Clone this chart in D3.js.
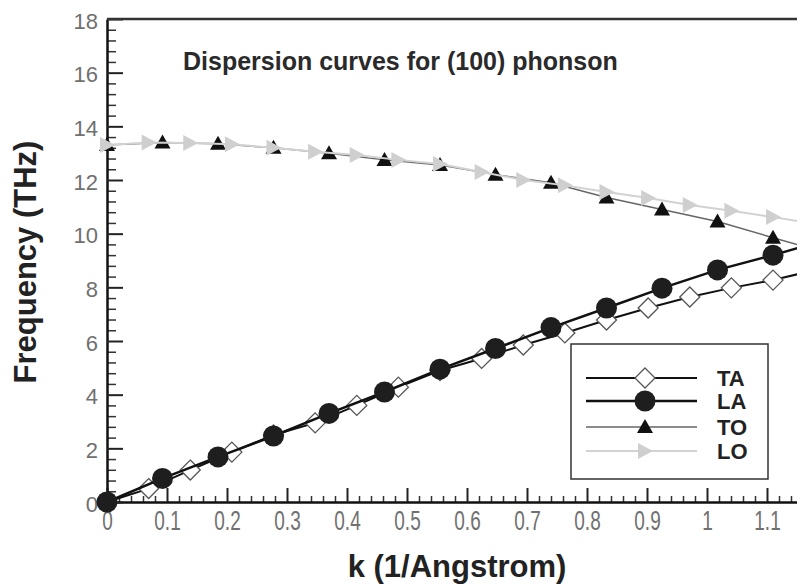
<!DOCTYPE html>
<html>
<head>
<meta charset="utf-8">
<script src="https://cdn.jsdelivr.net/npm/d3@7"></script>
<style>
  body { margin: 0; background: #fff; }
  svg { display: block; font-family: "Liberation Sans", Arial, sans-serif; }
</style>
</head>
<body>
<svg id="chart" width="797" height="586"></svg>
<script>
// k grids (1/Angstrom); the last entry of each is where the line leaves the frame
var kLA = [0, 0.0925, 0.185, 0.2775, 0.37, 0.4625, 0.555, 0.6475, 0.74, 0.8325, 0.925, 1.0175, 1.11, 1.157];
var kTA = [0, 0.0694, 0.1388, 0.2081, 0.2775, 0.3469, 0.4163, 0.4856, 0.555, 0.6244, 0.6938, 0.7631, 0.8325, 0.9019, 0.9713, 1.0406, 1.11, 1.157];

// frequencies (THz)
var TA = [0, 0.5, 1.19, 1.86, 2.5, 2.95, 3.6, 4.28, 4.9, 5.35, 5.85, 6.3, 6.78, 7.23, 7.64, 7.98, 8.27, 8.52];
var LA = [0, 0.88, 1.68, 2.46, 3.3, 4.1, 4.95, 5.72, 6.5, 7.23, 7.97, 8.65, 9.2, 9.5];
var TO = [13.3, 13.4, 13.35, 13.2, 13.0, 12.75, 12.56, 12.2, 11.9, 11.35, 10.9, 10.45, 9.85, 9.55];
var LO = [13.3, 13.4, 13.38, 13.33, 13.2, 13.05, 12.93, 12.75, 12.6, 12.3, 12.0, 11.8, 11.55, 11.33, 11.07, 10.85, 10.62, 10.45];

var xTicks = [0, 0.1, 0.2, 0.3, 0.4, 0.5, 0.6, 0.7, 0.8, 0.9, 1, 1.1];
var yTicks = [0, 2, 4, 6, 8, 10, 12, 14, 16, 18];
var legendNames = ["TA", "LA", "TO", "LO"];

var svg = d3.select("#chart");

var x = d3.scaleLinear().domain([0, 1.15]).range([107, 797]);
var y = d3.scaleLinear().domain([0, 18]).range([502, 19]);

// minor ticks
var xMinor = d3.range(0, 115, 2).map(d => d / 100).filter(d => Math.round(d * 100) % 10 !== 0);
var yMinor = d3.range(0, 181, 4).map(d => d / 10).filter(d => Math.round(d * 10) % 20 !== 0);

svg.append("g")
    .attr("transform", "translate(0,502)")
    .call(d3.axisBottom(x).tickValues(xMinor).tickSize(-6).tickFormat(""))
    .call(g => g.select(".domain").remove())
    .selectAll("line").attr("stroke", "#333").attr("stroke-width", 1.5);

svg.append("g")
    .attr("transform", "translate(107,0)")
    .call(d3.axisLeft(y).tickValues(yMinor).tickSize(-9).tickFormat(""))
    .call(g => g.select(".domain").remove())
    .selectAll("line").attr("stroke", "#333").attr("stroke-width", 1.5);

// major x axis
var gx = svg.append("g")
    .attr("transform", "translate(0,502)")
    .call(d3.axisBottom(x).tickValues(xTicks).tickSize(-14).tickSizeOuter(0).tickFormat(d3.format("")));
gx.select(".domain").attr("stroke", "#111").attr("stroke-width", 2.5);
gx.selectAll(".tick line").attr("stroke", "#222").attr("stroke-width", 2);
gx.selectAll(".tick text")
    .attr("y", 0).attr("dy", 0)
    .attr("transform", "translate(0,28) scale(1,1.45)")
    .attr("fill", "#707070")
    .style("font-size", "19px");

// major y axis
var gy = svg.append("g")
    .attr("transform", "translate(107,0)")
    .call(d3.axisLeft(y).tickValues(yTicks).tickSize(-16).tickSizeOuter(0));
gy.select(".domain").attr("stroke", "#111").attr("stroke-width", 2.5);
gy.selectAll(".tick line").attr("stroke", "#222").attr("stroke-width", 2);
gy.selectAll(".tick text")
    .attr("x", -9).attr("dy", "0.42em")
    .attr("fill", "#707070")
    .style("font-size", "22px");

// top frame
svg.append("line")
    .attr("x1", 107).attr("x2", 797).attr("y1", 19).attr("y2", 19)
    .attr("stroke", "#333").attr("stroke-width", 2.5);

// titles
svg.append("text")
    .attr("x", 183).attr("y", 70)
    .attr("fill", "#2a2a2a")
    .style("font-size", "25px").style("font-weight", "bold")
    .text("Dispersion curves for (100) phonson");

svg.append("text")
    .attr("x", 457).attr("y", 577)
    .attr("text-anchor", "middle")
    .attr("fill", "#222")
    .style("font-size", "31px").style("font-weight", "bold")
    .text("k (1/Angstrom)");

svg.append("text")
    .attr("transform", "translate(36,262) rotate(-90)")
    .attr("text-anchor", "middle")
    .attr("fill", "#222")
    .style("font-size", "31px").style("font-weight", "bold")
    .text("Frequency (THz)");

// series
var styles = {
    TA: { stroke: "#111", width: 2 },
    LA: { stroke: "#111", width: 2.5 },
    TO: { stroke: "#666", width: 1.5 },
    LO: { stroke: "#d2d2d2", width: 2 }
};

function drawMarker(sel, name) {
    if (name === "TA") {
        sel.append("path").attr("d", "M0,-10L10,0L0,10L-10,0Z")
            .attr("fill", "#fff").attr("stroke", "#555").attr("stroke-width", 1.3);
    } else if (name === "LA") {
        sel.append("circle").attr("r", 10.5).attr("fill", "#1e1e1e");
    } else if (name === "TO") {
        sel.append("path").attr("d", "M0,-8L8,6L-8,6Z").attr("fill", "#111");
    } else {
        sel.append("path").attr("d", "M-7,-8L8,0L-7,8Z").attr("fill", "#cfcfcf");
    }
}

var series = [
    { name: "TA", k: kTA, f: TA },
    { name: "LA", k: kLA, f: LA },
    { name: "TO", k: kLA, f: TO },
    { name: "LO", k: kTA, f: LO }
];

var line = d3.line().x(d => x(d.k)).y(d => y(d.f));

series.forEach(function (s) {
    var pts = s.k.map((k, i) => ({ k: k, f: s.f[i] }));
    var g = svg.append("g");
    g.append("path")
        .datum(pts)
        .attr("fill", "none")
        .attr("stroke", styles[s.name].stroke)
        .attr("stroke-width", styles[s.name].width)
        .attr("d", line);
    g.selectAll("g.mk")
        .data(pts.filter(d => d.k <= 1.15))
        .join("g")
        .attr("class", "mk")
        .attr("transform", d => `translate(${x(d.k)},${y(d.f)})`)
        .each(function () { drawMarker(d3.select(this), s.name); });
});

// legend
var legend = svg.append("g");
legend.append("rect")
    .attr("x", 571).attr("y", 344).attr("width", 197).attr("height", 135)
    .attr("fill", "#fff").attr("stroke", "#333").attr("stroke-width", 1.5);

var legY = [378, 401, 427, 451];
legendNames.forEach(function (name, i) {
    var row = legend.append("g").attr("transform", `translate(0,${legY[i]})`);
    row.append("line")
        .attr("x1", 586).attr("x2", 697)
        .attr("stroke", styles[name].stroke)
        .attr("stroke-width", styles[name].width);
    drawMarker(row.append("g").attr("transform", "translate(645,0)"), name);
    row.append("text")
        .attr("x", 717).attr("y", 8)
        .attr("fill", "#222")
        .style("font-size", "22px").style("font-weight", "bold")
        .text(name);
});
</script>
</body>
</html>
